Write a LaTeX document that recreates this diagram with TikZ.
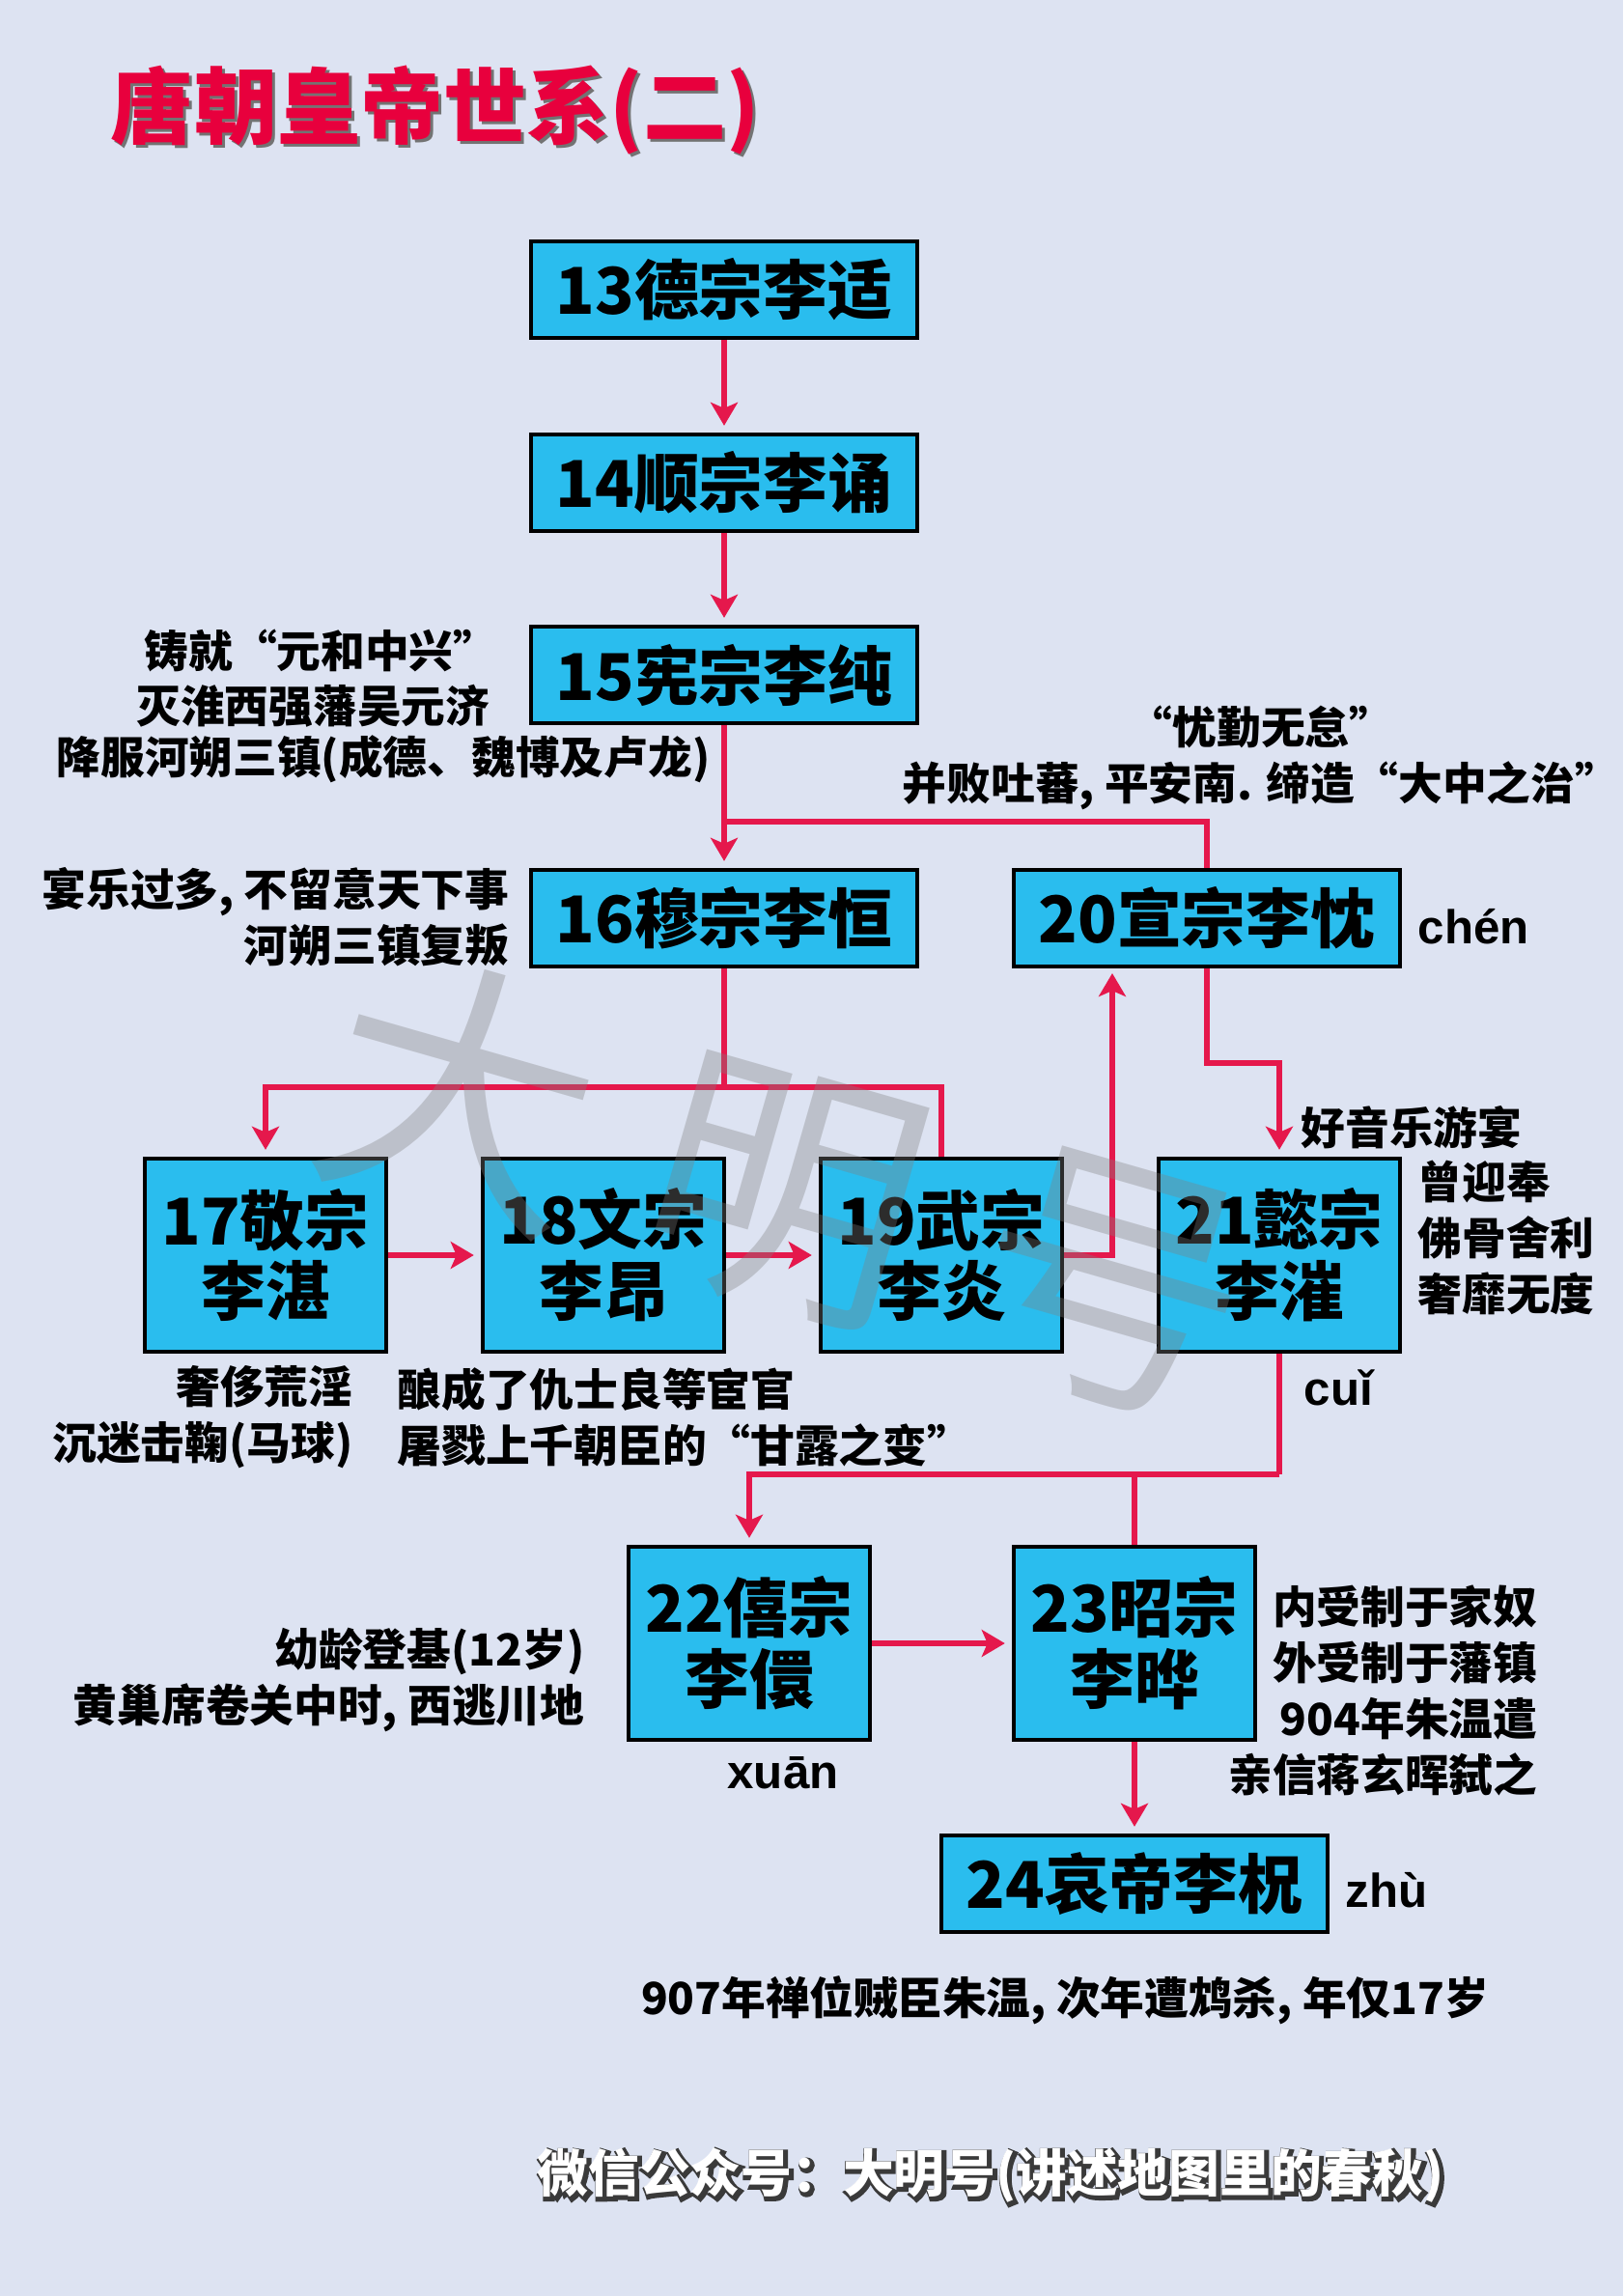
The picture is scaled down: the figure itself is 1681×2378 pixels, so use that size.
\documentclass[tikz,border=0pt]{standalone}
\usepackage{fontspec}
\setmainfont{Liberation Sans}
\newfontfamily\cjk{Noto Sans CJK SC}
\newfontfamily\cjkfat{Noto Sans CJK SC}[FakeBold=10]
\usepackage{tikz}
\usetikzlibrary{arrows.meta}

\definecolor{pagebg}{HTML}{DDE3F2}
\definecolor{boxblue}{HTML}{2ABDEE}
\definecolor{linkred}{HTML}{E5184C}
\definecolor{titlered}{HTML}{E8003D}
\definecolor{footgray}{HTML}{3A3A3A}

\begin{document}
\begin{tikzpicture}[x=0.01cm, y=-0.01cm,
    ruler/.style={draw=black, line width=1.2pt, fill=boxblue, inner sep=0pt, align=center,
        font=\cjk\bfseries\fontsize{19}{21}\selectfont},
    wideruler/.style={ruler, minimum width=4cm, minimum height=1cm},
    tallruler/.style={ruler, minimum width=2.5cm, minimum height=2cm},
    link/.style={draw=linkred, line width=1.5pt},
    linkarrow/.style={link, -{Stealth[length=0.24cm, width=0.28cm, inset=0.06cm]}, shorten >=2pt},
    note/.style={font=\cjk\bfseries\fontsize{13}{16.5}\selectfont, inner sep=0pt},
    pinyin/.style={font=\bfseries\fontsize{14}{16}\selectfont, inner sep=0pt}
]

% Page
\fill[pagebg] (0,0) rectangle (1681,2378);

% Title
\node[font=\cjk\bfseries\fontsize{24.5}{26}\selectfont, text=black!55, inner sep=0pt] (title-shadow) at (454,117) {唐朝皇帝世系(二)};
\node[font=\cjk\bfseries\fontsize{24.5}{26}\selectfont, text=titlered, inner sep=0pt] (title) at (451,114) {唐朝皇帝世系(二)};

% Emperors
\node[wideruler] (dezong) at (750,300) {13德宗李适};
\node[wideruler] (shunzong) at (750,500) {14顺宗李诵};
\node[wideruler] (xianzong) at (750,699) {15宪宗李纯};
\node[wideruler] (muzong) at (750,951) {16穆宗李恒};
\node[wideruler] (xuanzong) at (1250,951) {20宣宗李忱};
\node[tallruler] (jingzong) at (275,1300) {17敬宗\\李湛};
\node[tallruler] (wenzong) at (625,1300) {18文宗\\李昂};
\node[tallruler] (wuzong) at (975,1300) {19武宗\\李炎};
\node[tallruler] (yizong) at (1325,1300) {21懿宗\\李漼};
\node[tallruler] (xizong) at (776,1702) {22僖宗\\李儇};
\node[tallruler] (zhaozong) at (1175,1702) {23昭宗\\李晔};
\node[wideruler] (aidi) at (1175,1951) {24哀帝李柷};

% Succession lines
\draw[linkarrow] (dezong) -- (shunzong);
\draw[linkarrow] (shunzong) -- (xianzong);
\draw[linkarrow] (xianzong) -- (muzong);
\coordinate (split1) at (750,851);
\draw[link] (split1) -| (xuanzong.north);

\coordinate (split2) at (750,1126);
\draw[link] (muzong.south) -- (split2);
\draw[linkarrow] (split2) -| (jingzong.north);
\draw[link] (split2) -| (wuzong.north);

\draw[linkarrow] (jingzong) -- (wenzong);
\draw[linkarrow] (wenzong) -- (wuzong);
\coordinate (wu-up) at (1152,1001);
\draw[linkarrow] (wuzong.east) -| (wu-up);

\coordinate (xuan-bend) at (1250,1101);
\draw[linkarrow] (xuanzong.south) -- (xuan-bend) -| (yizong.north);

\coordinate (split3) at (1325,1527);
\draw[link] (yizong.south) -- (split3);
\draw[linkarrow] (split3) -| (xizong.north);
\draw[link] (split3) -| (zhaozong.north);

\draw[linkarrow] (xizong) -- (zhaozong);
\draw[linkarrow] (zhaozong) -- (aidi);

% Notes
\node[note, anchor=east] (xian-note1) at (516,674) {铸就“元和中兴”};
\node[note, anchor=east] (xian-note2) at (508,731) {灭淮西强藩吴元济};
\node[note, anchor=east] (xian-note3) at (736,786) {降服河朔三镇(成德、魏博及卢龙)};
\node[note, align=center] (xuan-note) at (1306,785) {“忧勤无怠”\\并败吐蕃, 平安南. 缔造“大中之治”};
\node[note, align=right, anchor=east] (mu-note) at (528,950) {宴乐过多, 不留意天下事\\河朔三镇复叛};
\node[pinyin, anchor=west] (chen) at (1468,960) {chén};
\node[note, anchor=west] (yi-note1) at (1347,1168) {好音乐游宴};
\node[note, align=left, anchor=west] (yi-note2) at (1468,1282) {曾迎奉\\佛骨舍利\\奢靡无度};
\node[note, align=right, anchor=east] (jing-note) at (366,1468) {奢侈荒淫\\沉迷击鞠(马球)};
\node[note, align=left, anchor=west] (wen-note) at (411,1468) {酿成了仇士良等宦官\\屠戮上千朝臣的“甘露之变”};
\node[pinyin, anchor=west] (cui) at (1350,1437) {cuǐ};
\node[note, align=right, anchor=east] (xi-note) at (606,1740) {幼龄登基(12岁)\\黄巢席卷关中时, 西逃川地};
\node[pinyin] (xuan) at (811,1836) {xuān};
\node[note, align=right, anchor=east] (zhao-note) at (1593,1751) {内受制于家奴\\外受制于藩镇\\904年朱温遣\\亲信蒋玄晖弑之};
\node[pinyin, anchor=west] (zhu) at (1393,1958) {zhù};
\node[note] (ai-note) at (1103,2072) {907年禅位贼臣朱温, 次年遭鸩杀, 年仅17岁};

% Footer (outline under white text)
\node[font=\cjkfat\bfseries\fontsize{15}{17}\selectfont, text=footgray, inner sep=0pt] (footer-rim) at (1028,2255) {微信公众号：大明号(讲述地图里的春秋)};
\node[font=\cjk\bfseries\fontsize{15}{17}\selectfont, text=white, inner sep=0pt] (footer) at (1026,2253) {微信公众号：大明号(讲述地图里的春秋)};

% Watermark
\node[rotate=-16, text=gray, text opacity=0.35, font=\cjk\fontsize{80}{80}\selectfont, inner sep=0pt] (watermark) at (815,1229) {大\hspace{20pt}明\hspace{20pt}号};

\end{tikzpicture}
\end{document}
